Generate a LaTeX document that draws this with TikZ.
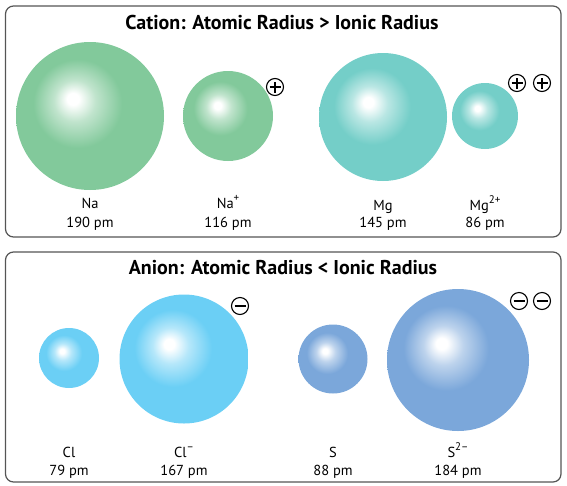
\documentclass[tikz,border=0pt]{standalone}
\usepackage{fontspec}
\setmainfont{PT Sans}
\definecolor{nagreen}{HTML}{82C99B}
\definecolor{mgteal}{HTML}{74CEC8}
\definecolor{clblue}{HTML}{6BCFF5}
\definecolor{sblue}{HTML}{7BA7DA}
\definecolor{framegray}{HTML}{555555}
\pgfdeclareradialshading{nashade}{\pgfpoint{-6bp}{6bp}}{color(0bp)=(white); color(2bp)=(white); color(7bp)=(white!50!nagreen); color(15bp)=(nagreen); color(50bp)=(nagreen)}
\pgfdeclareradialshading{mgshade}{\pgfpoint{-6bp}{6bp}}{color(0bp)=(white); color(2bp)=(white); color(7bp)=(white!50!mgteal); color(15bp)=(mgteal); color(50bp)=(mgteal)}
\pgfdeclareradialshading{clshade}{\pgfpoint{-6bp}{6bp}}{color(0bp)=(white); color(2bp)=(white); color(7bp)=(white!50!clblue); color(15bp)=(clblue); color(50bp)=(clblue)}
\pgfdeclareradialshading{sshade}{\pgfpoint{-6bp}{6bp}}{color(0bp)=(white); color(2bp)=(white); color(7bp)=(white!50!sblue); color(15bp)=(sblue); color(50bp)=(sblue)}
\newcommand{\supch}[1]{\raisebox{0.42em}{\fontsize{11}{11}\selectfont #1}}
\begin{document}
\begin{tikzpicture}[x=1pt,y=-1pt,
  panel/.style={draw=framegray,line width=1.2pt,rounded corners=8pt},
  title/.style={font=\fontsize{20}{23}\selectfont\bfseries,text=black,anchor=base,inner sep=0pt},
  lbl/.style={font=\fontsize{14.5}{17}\selectfont,anchor=base,inner sep=0pt},
  chg/.style={circle,draw=black,line width=1.1pt,minimum size=17pt,inner sep=0pt},
  plussign/.style={chg,path picture={
     \draw[line width=1.1pt] ([xshift=-5.5pt]path picture bounding box.center) -- ([xshift=5.5pt]path picture bounding box.center);
     \draw[line width=1.1pt] ([yshift=-5.5pt]path picture bounding box.center) -- ([yshift=5.5pt]path picture bounding box.center);}},
  minussign/.style={chg,path picture={
     \draw[line width=1.1pt] ([xshift=-5.5pt]path picture bounding box.center) -- ([xshift=5.5pt]path picture bounding box.center);}}
]
\useasboundingbox (0,0) rectangle (567,485);
% panels
\draw[panel] (5.5,6) rectangle (561,237);
\draw[panel] (5.5,252) rectangle (561,482);
\node[title] (t1) at (282,29) {Cation: Atomic Radius > Ionic Radius};
\node[title] (t2) at (283,274) {Anion: Atomic Radius < Ionic Radius};
% cations
\shade[shading=nashade] (90,116) circle (74pt);
\shade[shading=nashade] (228,116) circle (45pt);
\shade[shading=mgshade] (383,117) circle (64pt);
\shade[shading=mgshade] (485,116) circle (33pt);
\node[plussign] (p1) at (275,87) {};
\node[plussign] (p2) at (517,83) {};
\node[plussign] (p3) at (542,83) {};
\node[lbl] (n1) at (90,208) {Na};
\node[lbl] (r1) at (90,227) {190 pm};
\node[lbl] (n2) at (228,208) {Na\supch{+}};
\node[lbl] (r2) at (228,227) {116 pm};
\node[lbl] (n3) at (383,210) {Mg};
\node[lbl] (r3) at (383,227) {145 pm};
\node[lbl] (n4) at (485,210) {Mg\supch{2+}};
\node[lbl] (r4) at (485,227) {86 pm};
% anions
\shade[shading=clshade] (69,358) circle (30pt);
\shade[shading=clshade] (184,359) circle (64.5pt);
\shade[shading=sshade] (333,359) circle (34.5pt);
\shade[shading=sshade] (458,360) circle (71pt);
\node[minussign] (m1) at (240,306) {};
\node[minussign] (m2) at (519,301) {};
\node[minussign] (m3) at (542,301) {};
\node[lbl] (n5) at (69,457) {Cl};
\node[lbl] (r5) at (69,475) {79 pm};
\node[lbl] (n6) at (184,457) {Cl\supch{–}};
\node[lbl] (r6) at (184,475) {167 pm};
\node[lbl] (n7) at (333,457) {S};
\node[lbl] (r7) at (333,475) {88 pm};
\node[lbl] (n8) at (458,457) {S\supch{2–}};
\node[lbl] (r8) at (458,475) {184 pm};
\end{tikzpicture}
\end{document}
